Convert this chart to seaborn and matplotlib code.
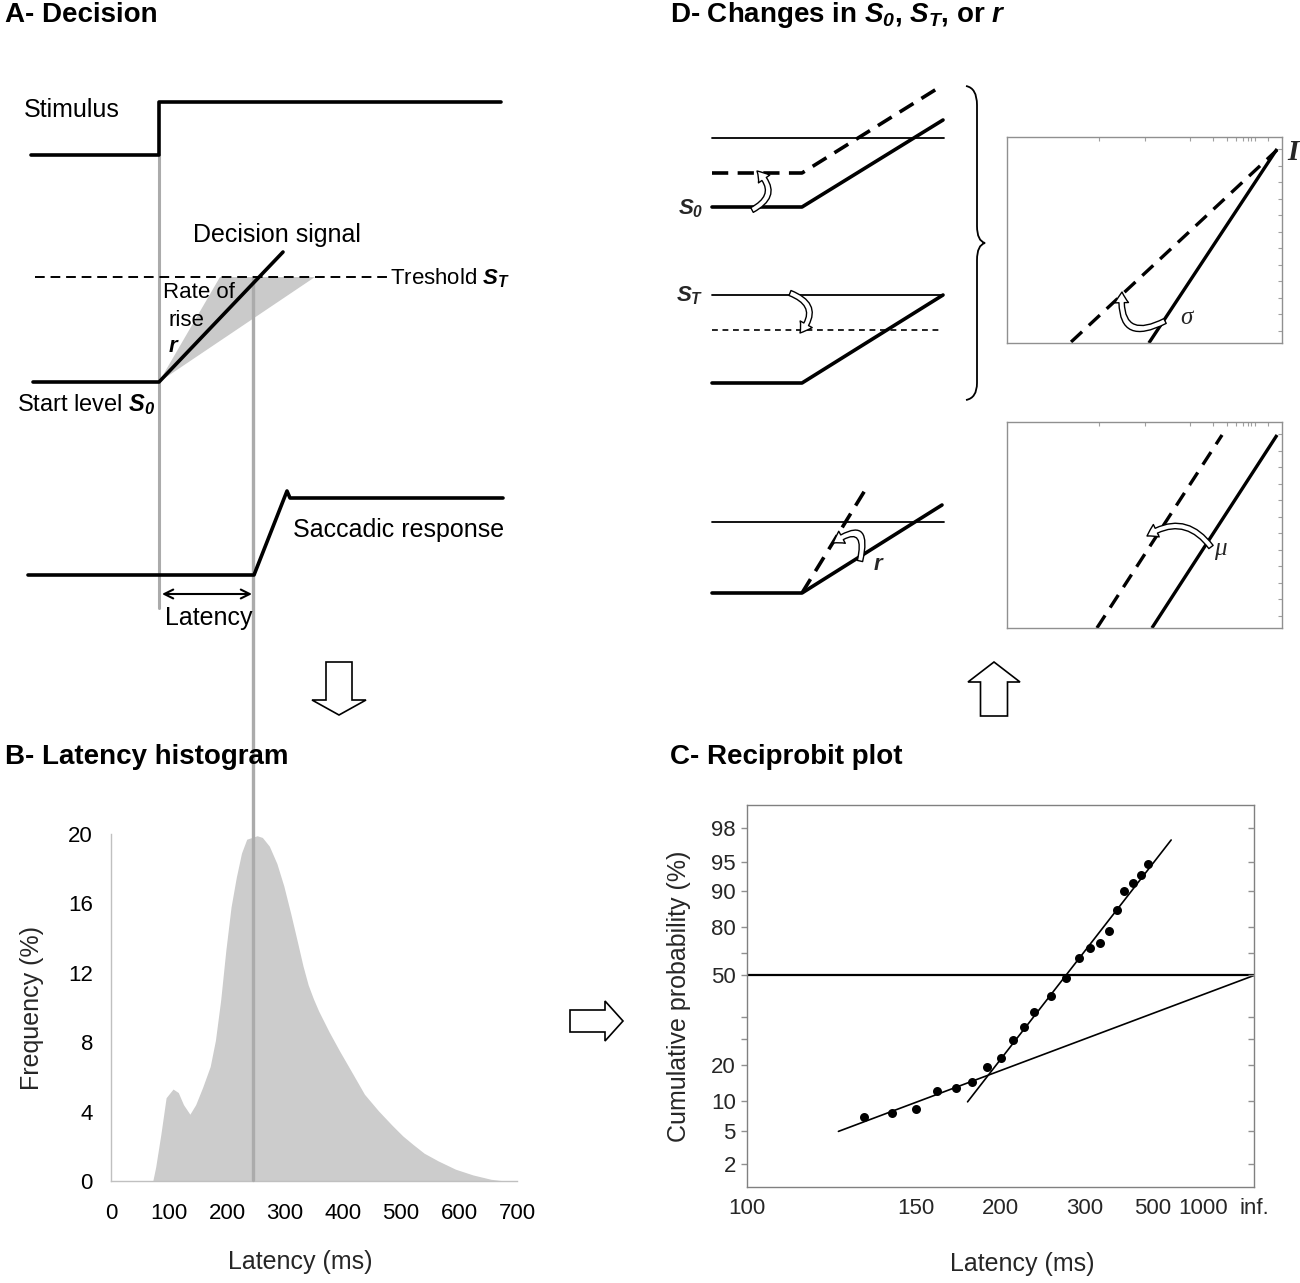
import numpy as np
import matplotlib
matplotlib.use("Agg")
import matplotlib.pyplot as plt
import seaborn as sns
from matplotlib.patches import FancyArrowPatch, FancyArrow, Polygon, PathPatch
from matplotlib.path import Path
from statistics import NormalDist

# ---------------- B: latency histogram (smoothed) ----------------
hist_latency = [72, 77, 86, 95, 107, 116, 125, 136, 146, 158, 171, 180, 189, 198,
                207, 216, 225, 234, 243, 252, 261, 273, 286, 298, 310, 322, 331, 340,
                349, 358, 367, 376, 394, 413, 437, 461, 485, 503, 521, 540, 564, 594,
                624, 655, 679]
hist_freq = [0, 0.8, 2.7, 4.8, 5.3, 5.1, 4.4, 3.85, 4.4, 5.4, 6.6, 8.1, 10.4, 13.3,
             15.8, 17.5, 18.9, 19.7, 19.8, 19.9, 19.8, 19.3, 18.3, 17.0, 15.4, 13.7,
             12.4, 11.3, 10.5, 9.8, 9.2, 8.6, 7.5, 6.4, 5.0, 4.05, 3.2, 2.6, 2.1, 1.6,
             1.16, 0.68, 0.35, 0.1, 0]
threshold_latency = 244

# ---------------- C: reciprobit plot ----------------
rp_latency = [130, 140, 150, 160, 170, 180, 190, 200, 210, 220, 230, 250, 270, 290,
              310, 330, 350, 370, 390, 420, 450, 480]
rp_percent = [6.9, 7.65, 8.4, 12.3, 13.1, 14.6, 19.2, 22.3, 29.4, 35.5, 42.4, 50.0,
              58.6, 67.9, 72.4, 74.1, 78.6, 85.5, 90.1, 91.7, 93.1, 94.7]
fit_early_latency = [122, np.inf]
fit_early_percent = [4.9, 60]
fit_main_latency = [177, 612]
fit_main_percent = [9.8, 97.2]
median_percent = 60   # reference line; the source axis labels this level "50"
c_xticks = [100, 150, 200, 300, 500, 1000, np.inf]
c_xticklabels = ['100', '150', '200', '300', '500', '1000', 'inf.']
c_xminor = [400, 600, 700, 800, 900, 2000]
c_yticks = [2, 5, 10, 20, 30, 40, 60, 70, 80, 90, 95, 98]
c_yticklabels = ['2', '5', '10', '20', '', '', '50', '', '80', '90', '95', '98']
c_zlim = (-2.335, 2.339)

# ---------------- A: decision schematic (figure pixels, y down) ----------------
stim_x, stim_y = [31, 159, 159, 501], [155, 155, 102, 102]
signal_x, signal_y = [33, 159, 283], [382, 382, 252]
thresh_x, thresh_y = [35, 388], [277, 277]
wedge_x, wedge_y = [159, 220, 315], [382, 277, 277]
sacc_x, sacc_y = [28, 254, 287, 290, 503], [575, 575, 491, 498, 498]
onset_x, onset_y = [159, 159], [155, 608]
cross_top, cross_bottom = 277, 1180

# ---------------- D: parameter changes (figure pixels, y down) ----------------
s0_thresh = ([712, 944], [138, 138])
s0_shifted = ([712, 802, 943], [173, 173, 85])
s0_base = ([712, 802, 943], [207, 207, 120])
st_thresh = ([712, 943], [295, 295])
st_shifted = ([712, 943], [330, 330])
st_base = ([712, 802, 943], [383, 383, 295])
r_thresh = ([712, 944], [522, 522])
r_base = ([712, 802, 942], [593, 593, 505])
r_shifted = ([802, 867], [593, 487])
# small reciprobit boxes (axes fractions)
sig_solid = ([0.516, 0.982], [0.0, 0.942])
sig_dashed = ([0.233, 0.982], [0.005, 0.937])
mu_solid = ([0.527, 0.982], [0.0, 0.937])
mu_dashed = ([0.327, 0.782], [0.0, 0.937])
d_xtick_latency = [150, 200, 300, 400, 500, 600, 700, 800, 900, 1000, 2000]
d_ytick_frac = [0.06, 0.14, 0.22, 0.30, 0.38, 0.46, 0.54, 0.62, 0.70, 0.78, 0.86, 0.94]


def recip(t):
    return -1000.0 / np.asarray(t, dtype=float)


def probit(p):
    return np.array([NormalDist().inv_cdf(v / 100.0) for v in np.atleast_1d(p)])


sns.set_theme(style="white")
plt.rcParams['font.family'] = ['Liberation Sans', 'DejaVu Sans']
plt.rcParams['mathtext.fontset'] = 'custom'
# math is only used for the bold-italic symbols (S0, ST, r)
plt.rcParams['mathtext.rm'] = 'Liberation Sans:italic:bold'
plt.rcParams['mathtext.it'] = 'Liberation Sans:italic:bold'
plt.rcParams['mathtext.bf'] = 'Liberation Sans:italic:bold'

W, H = 1300, 1283
fig = plt.figure(figsize=(W / 100, H / 100), dpi=100)
fig.patch.set_facecolor('white')


def px_axes(left, top, right, bottom, **kw):
    return fig.add_axes([left / W, (H - bottom) / H, (right - left) / W, (bottom - top) / H], **kw)


# ---------- B ----------
axB = px_axes(111, 834, 517, 1181)
axB.fill_between(hist_latency, hist_freq, 0, color='#cccccc', lw=0)
axB.set_xlim(0, 700)
axB.set_ylim(0, 20)
axB.set_xticks(range(0, 701, 100))
axB.set_yticks(range(0, 21, 4))
for s in ['top', 'right']:
    axB.spines[s].set_visible(False)
for s in ['left', 'bottom']:
    axB.spines[s].set_color('#c0c0c0')
    axB.spines[s].set_linewidth(1)
axB.tick_params(axis='both', direction='out', length=4, width=1, color='#b0b0b0',
                labelsize=16, labelcolor='black')
axB.tick_params(axis='x', pad=12)
axB.tick_params(axis='y', pad=9)
axB.set_xlabel('Latency (ms)', fontsize=18)
axB.set_ylabel('Frequency (%)', fontsize=18)
axB.xaxis.set_label_coords(0.466, -0.20)
axB.yaxis.set_label_coords(-0.165, 0.5)

# ---------- C ----------
axC = px_axes(747, 805, 1254, 1187)
axC.axhline(probit(median_percent)[0], color='black', lw=1.6)
sns.lineplot(x=recip(fit_early_latency), y=probit(fit_early_percent), color='black',
             lw=1.2, estimator=None, sort=False, ax=axC)
sns.lineplot(x=recip(fit_main_latency), y=probit(fit_main_percent), color='black',
             lw=1.2, estimator=None, sort=False, ax=axC)
sns.scatterplot(x=recip(rp_latency), y=probit(rp_percent), color='black', s=42,
                linewidth=0, legend=False, ax=axC, zorder=3)
axC.set_xlim(-10, 0)
axC.set_ylim(*c_zlim)
axC.set_xticks(recip(c_xticks))
axC.set_xticklabels(c_xticklabels)
axC.set_xticks(recip(c_xminor), minor=True)
axC.set_yticks(probit(c_yticks))
axC.set_yticklabels(c_yticklabels)
for s in axC.spines.values():
    s.set_color('#808080')
    s.set_linewidth(1)
axC.tick_params(axis='x', which='both', direction='in', length=4, width=1, color='#909090',
                labelsize=16, pad=8, top=False)
axC.tick_params(axis='y', direction='out', length=4, width=1, color='#909090',
                labelsize=16, pad=4, right=False)
axC.set_xlabel('Latency (ms)', fontsize=18)
axC.set_ylabel('Cumulative probability (%)', fontsize=18)
axC.xaxis.set_label_coords(0.542, -0.17)
axC.yaxis.set_label_coords(-0.11, 0.5)
# inward ticks on the right side
axCr = axC.twinx()
axCr.set_ylim(*c_zlim)
axCr.set_yticks(probit(c_yticks))
axCr.set_yticklabels([])
axCr.tick_params(axis='y', direction='in', length=4, width=1, color='#909090')
axCr.grid(False)
for s in axCr.spines.values():
    s.set_visible(False)

# ---------- D small boxes ----------
for top, bottom, solid, dashed in [(137, 343, sig_solid, sig_dashed),
                                   (422, 628, mu_solid, mu_dashed)]:
    axD = px_axes(1007, top, 1282, bottom)
    axD.plot(*solid, color='black', lw=2.4, solid_capstyle='butt')
    axD.plot(*dashed, color='black', lw=2.4, dashes=(4.5, 2.8))
    axD.set_xlim(0, 1)
    axD.set_ylim(0, 1)
    axD.set_xticks(1 + recip(d_xtick_latency) / 10)
    axD.set_yticks(d_ytick_frac)
    axD.set_xticklabels([])
    axD.set_yticklabels([])
    for s in axD.spines.values():
        s.set_color('#909090')
        s.set_linewidth(1)
    axD.tick_params(axis='both', direction='in', length=3, width=0.8, color='#a0a0a0',
                    top=True, right=True)

# ---------- overlay for the schematics ----------
ov = fig.add_axes([0, 0, 1, 1], zorder=10)
ov.set_xlim(0, W)
ov.set_ylim(H, 0)
ov.axis('off')
ov.patch.set_alpha(0)

LW = 2.6
GREY = '#ababab'

# A
ov.add_patch(Polygon(list(zip(wedge_x, wedge_y)), closed=True, fc='#cacaca', ec='none', zorder=1))
ov.plot(onset_x, onset_y, color=GREY, lw=2.2, zorder=2)
cross_px = ov.transData.inverted().transform(
    axB.transData.transform((threshold_latency, 0)))[0]
ov.plot([cross_px, cross_px], [cross_top, cross_bottom], color=GREY, lw=2.4, zorder=2)
ov.plot(stim_x, stim_y, color='black', lw=LW, zorder=3)
ov.plot(signal_x, signal_y, color='black', lw=LW, zorder=3)
ov.plot(thresh_x, thresh_y, color='black', lw=1.4, dashes=(5, 3), zorder=3)
ov.plot(sacc_x, sacc_y, color='black', lw=LW, zorder=3)
ov.annotate('', xy=(252, 594), xytext=(162, 594),
            arrowprops=dict(arrowstyle='<->', lw=1.5, color='black', mutation_scale=16,
                            shrinkA=0, shrinkB=0))

txt = dict(va='center', ha='left', color='black')
ov.text(5, 15, 'A- Decision', fontsize=20, fontweight='bold', **txt)
ov.text(24, 110, 'Stimulus', fontsize=18, **txt)
ov.text(193, 235, 'Decision signal', fontsize=18, **txt)
ov.text(390, 278, 'Treshold $S_T$', fontsize=16, **txt)
ov.text(163, 293, 'Rate of', fontsize=16, **txt)
ov.text(168, 320, 'rise', fontsize=16, **txt)
ov.text(168, 346, '$r$', fontsize=16, **txt)
ov.text(17, 405, 'Start level $S_0$', fontsize=17, **txt)
ov.text(293, 530, 'Saccadic response', fontsize=18, **txt)
ov.text(165, 618, 'Latency', fontsize=18, **txt)
ov.text(5, 757, 'B- Latency histogram', fontsize=20, fontweight='bold', **txt)
ov.text(670, 757, 'C- Reciprobit plot', fontsize=20, fontweight='bold', **txt)
ov.text(670, 15, 'D- Changes in $S_0$, $S_T$, or $r$', fontsize=20,
        fontweight='bold', **txt)

# hollow block arrows
block = dict(fc='white', ec='black', lw=1.2, length_includes_head=True, zorder=4)
ov.add_patch(FancyArrow(339, 662, 0, 53, width=26, head_width=54, head_length=15, **block))
ov.add_patch(FancyArrow(570, 1021, 53, 0, width=22, head_width=40, head_length=18, **block))
ov.add_patch(FancyArrow(994, 716, 0, -54, width=27, head_width=52, head_length=20, **block))

# D schematics
ov.plot(*s0_thresh, color='black', lw=1.3)
ov.plot(*s0_shifted, color='black', lw=LW, dashes=(4.5, 2.6))
ov.plot(*s0_base, color='black', lw=LW)
ov.plot(*st_thresh, color='black', lw=1.3)
ov.plot(*st_shifted, color='black', lw=1.2, dashes=(3.5, 2.8))
ov.plot(*st_base, color='black', lw=LW)
ov.plot(*r_thresh, color='black', lw=1.3)
ov.plot(*r_base, color='black', lw=LW)
ov.plot(*r_shifted, color='black', lw=LW, dashes=(4.5, 2.6))
ov.text(703, 209, '$S_0$', fontsize=16, va='center', ha='right')
ov.text(703, 296, '$S_T$', fontsize=16, va='center', ha='right')
ov.text(873, 564, '$r$', fontsize=16, va='center', ha='left')
ov.text(1287, 152, 'I', fontsize=21, fontfamily='Liberation Serif', fontweight='bold',
        style='italic', va='center', ha='left')
ov.text(1180, 318, 'σ', fontsize=18, fontfamily='Liberation Serif', style='italic',
        va='center', ha='left')
ov.text(1214, 549, 'μ', fontsize=18, fontfamily='Liberation Serif', style='italic',
        va='center', ha='left')

for a, b, rad in [((752, 210), (757, 171), 0.7),
                  ((790, 293), (800, 333), -0.7),
                  ((860, 561), (833, 543), 1.3),
                  ((1165, 321), (1122, 292), -0.9),
                  ((1211, 547), (1147, 536), 0.47)]:
    ov.add_patch(FancyArrowPatch(a, b, connectionstyle=f'arc3,rad={rad}',
                                 arrowstyle='simple,head_width=0.9,head_length=0.7,tail_width=0.35',
                                 mutation_scale=11, fc='white', ec='black', lw=1.0,
                                 shrinkA=0, shrinkB=0, zorder=6))

# curly brace
brace_v = [(966, 86), (977, 88), (977, 105), (977, 226), (977, 241), (985, 243),
           (977, 245), (977, 260), (977, 383), (977, 398), (966, 400)]
brace_c = [Path.MOVETO, Path.CURVE3, Path.CURVE3, Path.LINETO, Path.CURVE3, Path.CURVE3,
           Path.CURVE3, Path.CURVE3, Path.LINETO, Path.CURVE3, Path.CURVE3]
ov.add_patch(PathPatch(Path(brace_v, brace_c), fc='none', ec='black', lw=1.3))

fig.savefig('out.png', dpi=100, facecolor='white')
